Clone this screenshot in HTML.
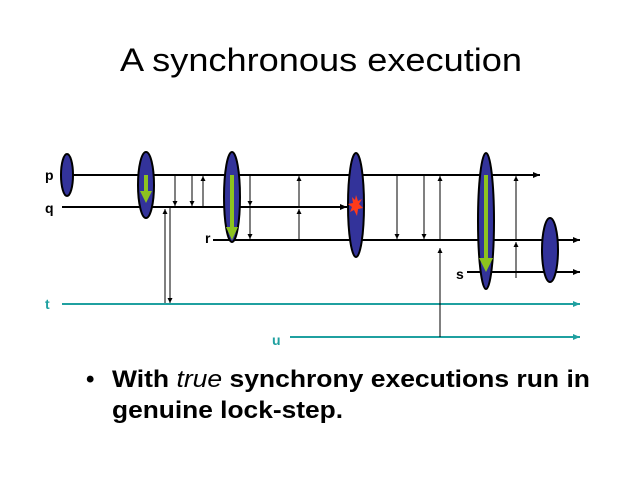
<!DOCTYPE html>
<html><head><style>html,body{margin:0;padding:0;background:#fff;}svg{display:block}</style></head>
<body>
<svg width="642" height="481" viewBox="0 0 642 481" xmlns="http://www.w3.org/2000/svg" font-family="Liberation Sans, Arial, sans-serif">
<defs>
<marker id="ab" markerWidth="8" markerHeight="8" refX="7" refY="4" orient="auto" markerUnits="userSpaceOnUse"><path d="M0,1 L7,4 L0,7z" fill="#000"/></marker>
<marker id="as" markerWidth="6" markerHeight="6" refX="5" refY="3" orient="auto" markerUnits="userSpaceOnUse"><path d="M0,0.5 L5,3 L0,5.5z" fill="#000"/></marker>
<marker id="at" markerWidth="8" markerHeight="8" refX="7" refY="4" orient="auto" markerUnits="userSpaceOnUse"><path d="M0,1 L7,4 L0,7z" fill="#1fa0a0"/></marker>
</defs>
<text x="321" y="71" font-size="32" text-anchor="middle" textLength="402" lengthAdjust="spacingAndGlyphs">A synchronous execution</text>

<!-- process lines -->
<g stroke="#000" stroke-width="2" fill="none">
<line x1="70" y1="175" x2="540" y2="175" marker-end="url(#ab)"/>
<line x1="62" y1="207" x2="347" y2="207" marker-end="url(#ab)"/>
<line x1="213" y1="240" x2="580" y2="240" marker-end="url(#ab)"/>
<line x1="467" y1="272" x2="580" y2="272" marker-end="url(#ab)"/>
</g>
<g stroke="#1fa0a0" stroke-width="2" fill="none">
<line x1="62" y1="304" x2="580" y2="304" marker-end="url(#at)"/>
<line x1="290" y1="337" x2="580" y2="337" marker-end="url(#at)"/>
</g>

<!-- messages -->
<g stroke="#000" stroke-width="1" fill="none">
<line x1="175" y1="176" x2="175" y2="206" marker-end="url(#as)"/>
<line x1="192" y1="176" x2="192" y2="206" marker-end="url(#as)"/>
<line x1="203" y1="206" x2="203" y2="176" marker-end="url(#as)"/>
<line x1="165" y1="303" x2="165" y2="209" marker-end="url(#as)"/>
<line x1="170" y1="208" x2="170" y2="303" marker-end="url(#as)"/>
<line x1="250" y1="176" x2="250" y2="206" marker-end="url(#as)"/>
<line x1="250" y1="208" x2="250" y2="239" marker-end="url(#as)"/>
<line x1="299" y1="239" x2="299" y2="209" marker-end="url(#as)"/>
<line x1="299" y1="206" x2="299" y2="176" marker-end="url(#as)"/>
<line x1="397" y1="176" x2="397" y2="239" marker-end="url(#as)"/>
<line x1="424" y1="176" x2="424" y2="239" marker-end="url(#as)"/>
<line x1="440" y1="337" x2="440" y2="248" marker-end="url(#as)"/>
<line x1="440" y1="239" x2="440" y2="176" marker-end="url(#as)"/>
<line x1="516" y1="278" x2="516" y2="242" marker-end="url(#as)"/>
<line x1="516" y1="239" x2="516" y2="176" marker-end="url(#as)"/>
</g>

<!-- ellipses -->
<g fill="#33339a" stroke="#000" stroke-width="2">
<ellipse cx="67" cy="175" rx="6" ry="21"/>
<ellipse cx="146" cy="185" rx="8" ry="33"/>
<ellipse cx="232" cy="197" rx="8" ry="45"/>
<ellipse cx="356" cy="205" rx="8" ry="52"/>
<ellipse cx="486" cy="221" rx="8" ry="68"/>
<ellipse cx="550" cy="250" rx="8" ry="32"/>
</g>
<!-- green arrows -->
<g fill="#8dc21f">
<rect x="144" y="175" width="4" height="16"/><path d="M140,191 L152,191 L146,203z"/>
<rect x="230" y="175" width="4" height="52"/><path d="M226,227 L238,227 L232,240z"/>
<rect x="484" y="175" width="4" height="83"/><path d="M479,258 L493,258 L486,272z"/>
</g>
<path d="M356,195 L358,201 L362,199 L359,204 L363,208 L358,209 L357,216 L354,210 L350,212 L352,207 L348,204 L353,203 L352,197 L355,200z" fill="#ff3a1a"/>

<!-- labels -->
<g font-size="14" font-weight="bold">
<text x="45" y="180">p</text>
<text x="45" y="213">q</text>
<text x="205" y="243">r</text>
<text x="456" y="279">s</text>
<text x="45" y="309" fill="#1fa0a0">t</text>
<text x="272" y="345" fill="#1fa0a0">u</text>
</g>

<g font-size="24" font-weight="bold">
<text x="86" y="387">•</text>
<text x="112" y="387" textLength="478" lengthAdjust="spacingAndGlyphs">With <tspan font-style="italic" font-weight="normal">true</tspan> synchrony executions run in</text>
<text x="112" y="418" textLength="231" lengthAdjust="spacingAndGlyphs">genuine lock-step.</text>
</g>
</svg>
</body></html>
